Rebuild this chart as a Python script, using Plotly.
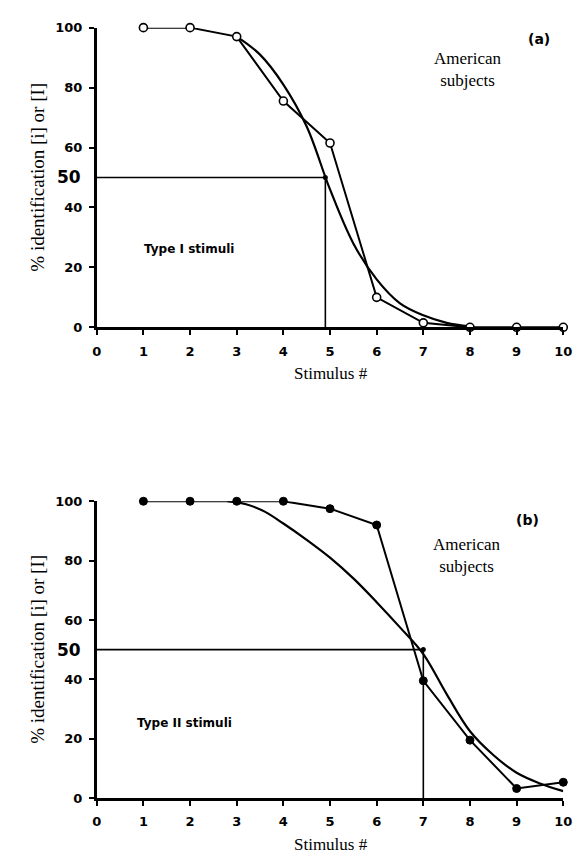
import plotly.graph_objects as go

# ---- data ----
stimulus = [1, 2, 3, 4, 5, 6, 7, 8, 9, 10]
type1_pct = [100, 100, 97, 75.5, 61.5, 10, 1.5, 0, 0, 0]
type1_fit_x = [3, 3.5, 4, 4.5, 5, 5.5, 6, 6.5, 7, 7.5, 8]
type1_fit_y = [97, 91, 81, 67, 46, 28, 16, 8, 4, 1.5, 0.3]
type1_cross = 4.9

type2_pct = [100, 100, 100, 100, 97.5, 92, 39.5, 19.5, 3.2, 5.3]
type2_fit_x = [2.8, 3.2, 3.6, 4, 4.5, 5, 5.5, 6, 6.5, 7, 7.5, 8, 8.5, 9, 9.5, 10]
type2_fit_y = [100, 99, 96.5, 92.5, 87, 81, 74, 66, 57.5, 48.5, 35, 22.5, 14.5, 8.5, 4.9, 2.3]
type2_cross = 7

x_ticks = [0, 1, 2, 3, 4, 5, 6, 7, 8, 9, 10]
y_ticks = [0, 20, 40, 60, 80, 100]

W, H = 584, 862
SERIF = "Liberation Serif, Times New Roman, serif"
SANS = "DejaVu Sans, Arial, sans-serif"

fig = go.Figure()

# panel geometry (pixels)
x0px, x1px = 94, 572
panels = [
    dict(top=21, bot=326, xa="x", ya="y"),
    dict(top=503, bot=805, xa="x2", ya="y2"),
]

def py(p):
    return 1 - p / H

def add_panel(i, pct, fit_x, fit_y, cross, marker_fill, label, letter, letter_pos, amer_pos, type_pos):
    p = panels[i]
    xa, ya = p["xa"], p["ya"]
    # reference lines through 50%
    fig.add_trace(go.Scatter(x=[0, cross, cross], y=[50, 50, 0], mode="lines",
                             line=dict(color="black", width=1.6), xaxis=xa, yaxis=ya,
                             showlegend=False, cliponaxis=False, hoverinfo="skip"))
    fig.add_trace(go.Scatter(x=[cross], y=[50], mode="markers",
                             marker=dict(color="black", size=5), xaxis=xa, yaxis=ya,
                             showlegend=False, cliponaxis=False))
    # fitted curve
    fig.add_trace(go.Scatter(x=fit_x, y=fit_y, mode="lines",
                             line=dict(color="black", width=2.2, shape="spline", smoothing=1.0),
                             xaxis=xa, yaxis=ya, showlegend=False, cliponaxis=False))
    # data
    if marker_fill:
        mk = dict(symbol="circle", size=8, color="black", line=dict(color="black", width=1))
    else:
        mk = dict(symbol="circle", size=8, color="white", line=dict(color="black", width=1.6))
    fig.add_trace(go.Scatter(x=stimulus, y=pct, mode="lines+markers",
                             line=dict(color="black", width=2), marker=mk,
                             xaxis=xa, yaxis=ya, showlegend=False, cliponaxis=False))

    fig.add_annotation(x=letter_pos[0] / W, y=py(letter_pos[1]), xref="paper", yref="paper",
                       text="<b>" + letter + "</b>", showarrow=False,
                       font=dict(family=SANS, size=14, color="black"),
                       xanchor="center", yanchor="middle")
    fig.add_annotation(x=amer_pos[0] / W, y=py(amer_pos[1]), xref="paper", yref="paper",
                       text="American<br>subjects", showarrow=False,
                       font=dict(family=SERIF, size=17, color="black"),
                       xanchor="center", yanchor="middle", align="center")
    fig.add_annotation(x=type_pos[0] / W, y=py(type_pos[1]), xref="paper", yref="paper",
                       text="<b>" + label + "</b>", showarrow=False,
                       font=dict(family=SANS, size=12, color="black"),
                       xanchor="left", yanchor="middle")
    # 50 label
    y50 = p["bot"] - (p["bot"] - p["top"]) * 0.5
    fig.add_annotation(x=80 / W, y=py(y50), xref="paper", yref="paper", text="<b>50</b>",
                       showarrow=False, font=dict(family=SANS, size=17, color="black"),
                       xanchor="right", yanchor="middle")
    # axis titles
    fig.add_annotation(x=33 / W, y=py((p["top"] + p["bot"]) / 2), xref="paper", yref="paper",
                       text="% identification [i] or [I]", textangle=-90, showarrow=False,
                       font=dict(family=SERIF, size=19, color="black"),
                       xanchor="center", yanchor="middle")
    fig.add_annotation(x=334 / W, y=py(p["bot"] + 47), xref="paper", yref="paper",
                       text="Stimulus #", showarrow=False,
                       font=dict(family=SERIF, size=17, color="black"),
                       xanchor="center", yanchor="middle")

add_panel(0, type1_pct, type1_fit_x, type1_fit_y, type1_cross, False, "Type I stimuli", "(a)",
          (547, 33), (474, 64), (140, 246))
add_panel(1, type2_pct, type2_fit_x, type2_fit_y, type2_cross, True, "Type II stimuli", "(b)",
          (535, 522), (473, 558), (133, 729))

axis_common = dict(showgrid=False, zeroline=False, showline=True, linecolor="black", linewidth=2.5,
                   ticks="outside", ticklen=5, tickwidth=2, tickcolor="black",
                   tickfont=dict(family=SANS, size=13, color="black", weight="bold"))

for i, p in enumerate(panels):
    suffix = "" if i == 0 else str(i + 1)
    xdom = [x0px / W, x1px / W]
    ydom = [py(p["bot"]), py(p["top"])]
    fig.update_layout(**{
        "xaxis" + suffix: dict(domain=xdom, range=[0, 10], tickvals=x_ticks, anchor="y" + suffix,
                               ticklabelstandoff=5, **axis_common),
        "yaxis" + suffix: dict(domain=ydom, range=[0, 100], tickvals=y_ticks, anchor="x" + suffix,
                               ticklabelstandoff=4, **axis_common),
    })

fig.update_layout(width=W, height=H, margin=dict(l=0, r=0, t=0, b=0),
                  plot_bgcolor="white", paper_bgcolor="white", showlegend=False)

fig.write_html("out.html")
